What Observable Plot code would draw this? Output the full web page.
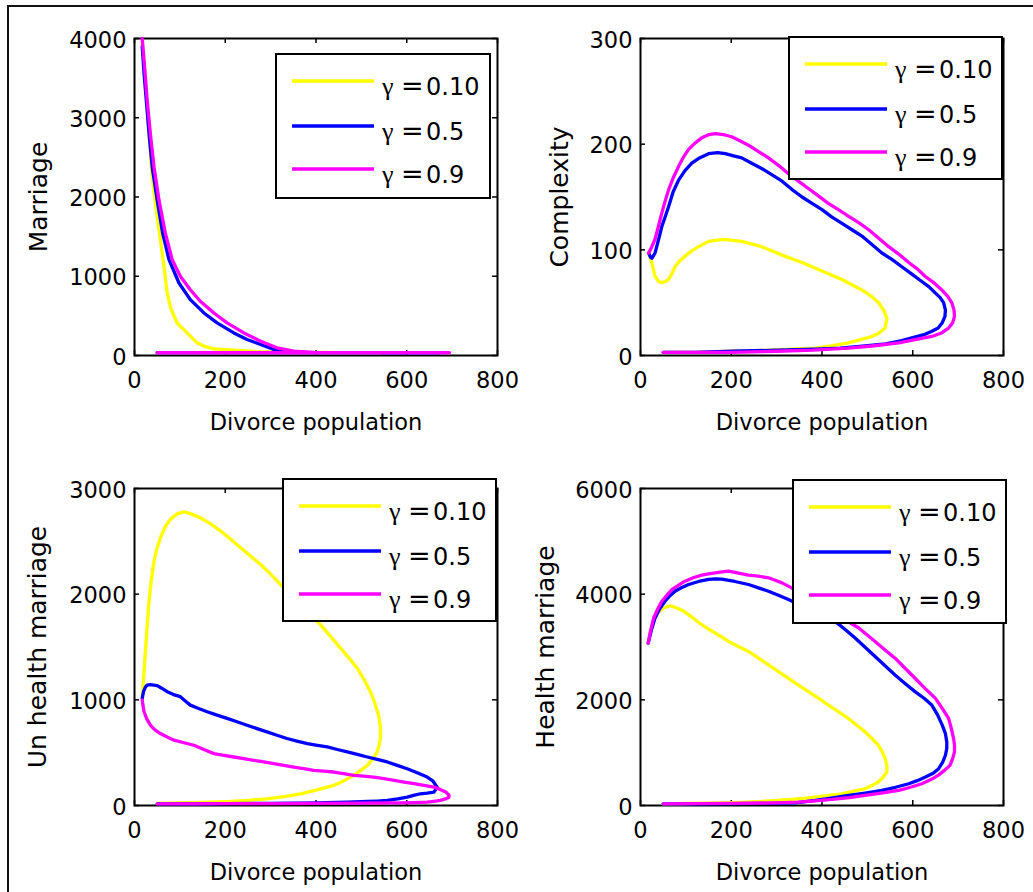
<!DOCTYPE html>
<html><head><meta charset="utf-8">
<script src="https://cdn.jsdelivr.net/npm/d3@7"></script>
<script src="https://cdn.jsdelivr.net/npm/@observablehq/plot@0.6"></script>
<style>
html,body{margin:0;padding:0;background:#fff;}
#fig{position:relative;width:1033px;height:892px;overflow:hidden;background:#fff;}
#frame{position:absolute;left:7px;top:5px;width:1100px;height:1000px;border-left:2px solid #111;border-top:2px solid #111;}
.panel{position:absolute;width:520px;height:445px;}
.legend{position:absolute;}
g[aria-label="y-axis label"]{font-size:25px;}
</style></head><body><div id="fig"><div id="frame"></div></div>
<script>
// ---- data ----
const gammaLabels = ["0.10", "0.5", "0.9"];
const lineColors = ["#ffff00", "#0000ff", "#ff00ff"];
const xTicks = [0, 200, 400, 600, 800];
const xLabel = "Divorce population";
const yLabels = ["Marriage", "Complexity", "Un health marriage", "Health marriage"];
const yDomains = [[0, 4000], [0, 300], [0, 3000], [0, 6000]];
const yTicks = [[0, 1000, 2000, 3000, 4000], [0, 100, 200, 300], [0, 1000, 2000, 3000], [0, 2000, 4000, 6000]];

// Panel 1: Marriage vs divorce population ([divorce, marriage])
const marriage_g010 = [[17,3950],[22,3640],[27,3220],[32,2800],[37,2380],[45,1960],[55,1545],[65,1125],[72,790],[81,580],[94,410],[116,285],[138,160],[153,118],[175,84],[212,70],[270,50],[350,40],[450,36],[543,35],[400,35],[250,35],[120,35],[50,35]];
const marriage_g05 = [[17,3900],[21,3560],[26,3220],[32,2800],[39,2380],[50,1960],[62,1545],[76,1210],[98,915],[123,705],[153,537],[182,411],[219,285],[248,201],[278,139],[307,76],[329,42],[400,36],[500,35],[600,35],[672,35],[550,35],[400,35],[250,35],[120,35],[50,35]];
const marriage_g09 = [[17,4000],[21,3730],[28,3220],[35,2800],[43,2380],[54,1960],[68,1545],[83,1210],[101,1000],[123,830],[145,685],[175,537],[204,411],[241,285],[278,180],[314,97],[351,55],[395,38],[500,35],[600,35],[694,35],[550,35],[400,35],[250,35],[120,35],[50,35]];

// Panel 2: Complexity
const complexity_g010 = [[18,97],[25,88],[32,75],[40,70],[47,69],[55,70],[62,72],[70,78],[76,84],[87,90],[98,94],[113,99],[128,103],[150,108],[183,110],[223,108],[267,103],[312,95],[356,88],[400,80],[444,72],[488,62],[512,55],[525,50],[537,42],[543,35],[539,26],[525,21],[510,18],[485,15],[458,12],[420,9],[385,7],[330,6],[282,5],[200,4],[120,3],[50,3]];
const complexity_g05 = [[18,97],[22,93],[25,92],[28,94],[32,97],[40,110],[47,122],[55,132],[62,141],[72,155],[84,166],[98,175],[113,182],[130,187],[150,191],[170,192],[187,191],[205,189],[223,187],[245,182],[267,177],[290,171],[312,165],[334,157],[356,150],[378,144],[400,138],[422,131],[444,125],[466,119],[488,113],[510,105],[532,97],[554,91],[576,84],[598,77],[620,70],[636,65],[650,59],[660,55],[668,50],[672,43],[671,37],[665,31],[656,26],[642,23],[627,20],[600,17],[576,14],[540,11],[495,9],[440,7],[385,6],[300,5],[200,4],[120,3],[50,3]];
const complexity_g09 = [[18,97],[25,103],[32,110],[40,123],[47,135],[55,147],[62,157],[72,168],[84,179],[95,188],[106,195],[120,201],[135,206],[150,209],[165,210],[183,209],[201,207],[220,203],[238,199],[260,193],[282,187],[304,180],[326,172],[348,165],[370,158],[392,151],[414,144],[436,138],[458,132],[480,126],[503,119],[525,111],[547,103],[569,96],[591,88],[610,82],[627,75],[646,69],[664,62],[677,56],[686,50],[691,43],[692,37],[688,31],[679,26],[662,21],[642,18],[605,15],[569,12],[510,9],[458,7],[380,5],[300,4],[200,3],[120,3],[50,3]];

// Panel 3: Un health marriage
const unhealth_g010 = [[17,1014],[20,1200],[24,1457],[28,1700],[32,1932],[37,2130],[43,2312],[50,2440],[57,2534],[68,2640],[79,2708],[94,2760],[109,2780],[125,2760],[145,2724],[168,2665],[190,2597],[212,2520],[234,2439],[256,2360],[278,2281],[300,2190],[322,2091],[410,1710],[432,1600],[454,1489],[473,1395],[491,1299],[506,1190],[520,1077],[530,965],[538,855],[542,740],[542,634],[539,570],[535,507],[525,440],[513,380],[498,330],[483,285],[462,235],[439,190],[400,145],[366,111],[330,85],[292,63],[250,48],[212,38],[150,30],[100,25],[50,20]];
const unhealth_g05 = [[17,1014],[20,1080],[24,1120],[28,1140],[35,1145],[42,1140],[50,1135],[60,1110],[72,1077],[86,1050],[101,1030],[112,990],[123,950],[140,920],[160,887],[182,855],[204,824],[226,792],[248,760],[270,728],[292,697],[314,665],[336,634],[358,610],[381,586],[403,570],[425,554],[447,530],[469,507],[491,483],[513,459],[535,436],[557,412],[579,380],[601,348],[623,310],[645,269],[658,230],[667,174],[660,127],[645,118],[630,111],[615,95],[601,79],[580,62],[557,48],[535,42],[513,38],[469,32],[400,25],[300,20],[200,18],[120,16],[50,16]];
const unhealth_g09 = [[17,998],[19,940],[21,887],[27,820],[35,760],[45,715],[57,681],[72,648],[87,618],[109,594],[131,570],[153,530],[175,491],[197,475],[219,459],[241,443],[263,428],[285,412],[307,396],[329,380],[351,364],[373,348],[395,333],[417,325],[439,317],[461,301],[483,285],[505,277],[527,269],[550,254],[572,238],[594,222],[616,206],[638,190],[660,174],[675,150],[686,127],[693,100],[693,79],[685,62],[674,48],[660,40],[645,32],[616,28],[586,25],[500,22],[400,20],[300,18],[200,17],[120,16],[50,16]];

// Panel 4: Health marriage
const health_g010 = [[17,3073],[22,3300],[29,3500],[38,3650],[51,3739],[65,3780],[80,3740],[95,3680],[106,3612],[120,3520],[135,3422],[150,3340],[165,3264],[180,3185],[194,3105],[216,3010],[238,2915],[260,2790],[282,2662],[304,2535],[326,2408],[348,2280],[370,2155],[392,2030],[414,1901],[436,1775],[458,1648],[477,1520],[495,1394],[510,1268],[524,1141],[533,1014],[539,887],[543,760],[543,634],[535,540],[524,444],[510,380],[495,317],[470,270],[444,222],[415,190],[385,158],[360,135],[333,114],[300,95],[267,76],[220,60],[150,45],[100,38],[50,32]];
const health_g05 = [[17,3073],[24,3320],[32,3549],[42,3720],[54,3866],[65,3970],[76,4056],[90,4120],[106,4183],[128,4240],[150,4278],[165,4290],[179,4285],[208,4240],[238,4183],[260,4120],[282,4056],[304,3980],[326,3897],[429,3485],[451,3330],[473,3169],[495,2995],[517,2820],[539,2645],[561,2471],[583,2310],[605,2155],[625,2030],[642,1901],[655,1710],[665,1521],[672,1360],[675,1204],[675,1080],[672,950],[666,820],[657,697],[645,610],[628,539],[610,470],[591,412],[562,345],[532,285],[495,235],[458,190],[420,140],[385,95],[341,51],[280,40],[200,35],[120,32],[50,32]];
const health_g09 = [[17,3073],[22,3300],[29,3549],[38,3720],[47,3866],[58,3980],[69,4088],[84,4170],[98,4246],[116,4310],[135,4360],[150,4385],[165,4405],[180,4420],[194,4436],[216,4400],[238,4360],[260,4340],[282,4310],[297,4262],[312,4214],[333,4119],[481,3359],[499,3232],[517,3105],[539,2945],[561,2788],[583,2598],[605,2408],[627,2218],[650,2028],[665,1838],[679,1648],[685,1458],[690,1267],[692,1140],[692,1014],[688,887],[682,760],[670,665],[656,570],[640,490],[620,412],[595,345],[569,285],[530,235],[495,190],[460,150],[422,114],[385,88],[348,63],[300,50],[200,40],[120,35],[50,32]];

const panelSeries = [
  [marriage_g010, marriage_g05, marriage_g09],
  [complexity_g010, complexity_g05, complexity_g09],
  [unhealth_g010, unhealth_g05, unhealth_g09],
  [health_g010, health_g05, health_g09]
];

// ---- layout ----
const W = 520, H = 445, ML = 134, MR = 23, MT = 38, MB = 90;
const IW = W - ML - MR, IH = H - MT - MB;
const panelPos = [[0, 0], [506, 0], [0, 450], [506, 450]];
const yLabelOffsets = [105, 90, 106, 104];
const legendBoxes = [[275, 53, 216, 146], [788, 36, 215, 144], [282, 478, 215, 144], [792, 479, 215, 145]];

const fig = document.getElementById("fig");

panelSeries.forEach((series, p) => {
  const lines = series.map((pts, i) => Plot.line(pts, {x: d => d[0], y: d => d[1], stroke: lineColors[i], strokeWidth: 3.3, strokeLinejoin: "round"}));
  const chart = Plot.plot({
    width: W, height: H, marginLeft: ML, marginRight: MR, marginTop: MT, marginBottom: MB,
    style: {background: "transparent", overflow: "visible", fontFamily: "DejaVu Sans", fontSize: "22.5px", color: "black"},
    x: {domain: [0, 800]},
    y: {domain: yDomains[p]},
    marks: [
      Plot.frame({stroke: "black", strokeWidth: 2}),
      Plot.tickX(xTicks, {x: d => d, insetTop: IH - 5, stroke: "black", strokeWidth: 1.5}),
      Plot.tickX(xTicks, {x: d => d, insetBottom: IH - 5, stroke: "black", strokeWidth: 1.5}),
      Plot.tickY(yTicks[p], {y: d => d, insetRight: IW - 5, stroke: "black", strokeWidth: 1.5}),
      Plot.tickY(yTicks[p], {y: d => d, insetLeft: IW - 5, stroke: "black", strokeWidth: 1.5}),
      Plot.axisX(xTicks, {tickSize: 0, tickPadding: 17, tickFormat: d => String(d), label: xLabel, labelAnchor: "center", labelArrow: "none", labelOffset: 74}),
      Plot.axisY(yTicks[p], {tickSize: 0, tickPadding: 8, dy: 2, tickFormat: d => String(d), label: yLabels[p], labelAnchor: "center", labelArrow: "none", labelOffset: yLabelOffsets[p]}),
      ...lines
    ]
  });
  const div = document.createElement("div");
  div.className = "panel";
  div.style.left = panelPos[p][0] + "px";
  div.style.top = panelPos[p][1] + "px";
  div.appendChild(chart);
  fig.appendChild(div);
});

// legends
const rowY = [28, 73, 116];
legendBoxes.forEach(([lx, ly, lw, lh]) => {
  const svg = d3.create("svg").attr("class", "legend").attr("width", lw).attr("height", lh)
    .style("left", lx + "px").style("top", ly + "px");
  svg.append("rect").attr("x", 1).attr("y", 1).attr("width", lw - 2).attr("height", lh - 2)
    .attr("fill", "white").attr("stroke", "black").attr("stroke-width", 2);
  gammaLabels.forEach((g, i) => {
    svg.append("line").attr("x1", 17).attr("x2", 99).attr("y1", rowY[i]).attr("y2", rowY[i])
      .attr("stroke", lineColors[i]).attr("stroke-width", 3.3);
    const t = svg.append("text").attr("y", rowY[i] + 14).attr("font-family", "DejaVu Sans").attr("font-size", 24).attr("fill", "black");
    t.append("tspan").attr("x", 107).attr("font-family", "Liberation Serif").attr("font-size", 26).text("γ");
    t.append("tspan").attr("x", 126).attr("font-size", 27).text("=");
    t.append("tspan").attr("x", 151).text(g);
  });
  fig.appendChild(svg.node());
});
</script></body></html>
